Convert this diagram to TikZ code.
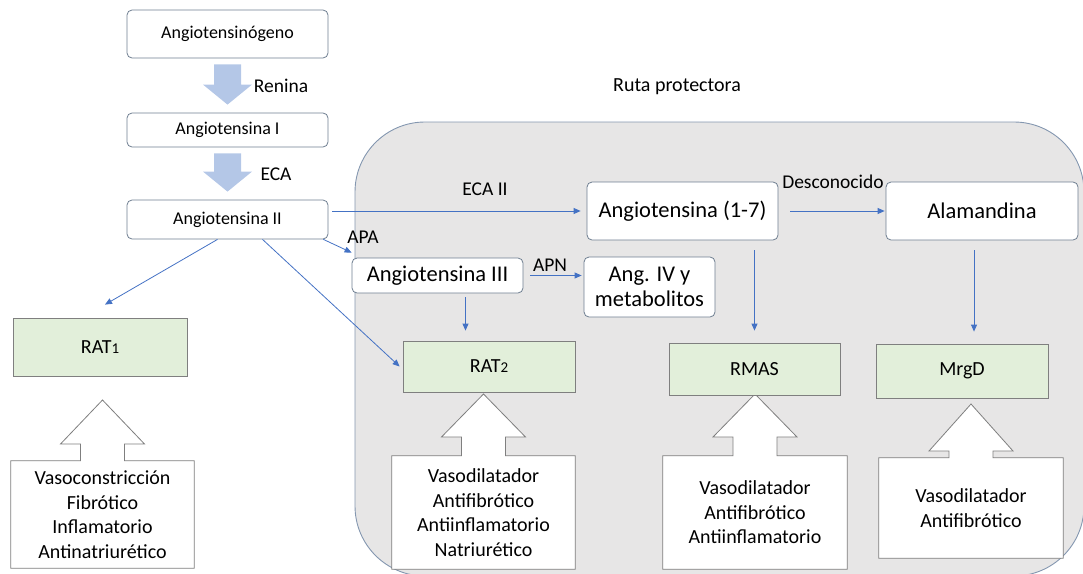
\documentclass[tikz,border=0pt]{standalone}
\usepackage{fontspec}
\setmainfont{Carlito}
\usetikzlibrary{arrows.meta, backgrounds, calc}

\definecolor{boxline}{HTML}{6F7F91}
\definecolor{recfill}{HTML}{E2EFDA}
\definecolor{recline}{HTML}{7F7F7F}
\definecolor{flowblue}{HTML}{4472C4}
\definecolor{blockblue}{HTML}{B4C7E7}
\definecolor{zonefill}{HTML}{E7E6E6}
\definecolor{zoneline}{HTML}{8497B0}

\newcommand\sizetop{\fontsize{18}{22}\selectfont}
\newcommand\sizemid{\fontsize{22.5}{25}\selectfont}
\newcommand\sizerec{\fontsize{20}{24}\selectfont}
\newcommand\sizeeff{\fontsize{20}{24.5}\selectfont}
\newcommand\sizelab{\fontsize{19.5}{22}\selectfont}
\newcommand\sizesub{\fontsize{15}{15}\selectfont}

% #1 effect node, #2 tip y, #3 head base y
\newcommand\effectarrow[3]{%
  \begin{scope}[on background layer]
  \path[callout] (#1.north west) -- ([xshift=-22pt]#1.north) -- ([xshift=-22pt]#1.north |- 0,#3)
    -- ([xshift=-42pt]#1.north |- 0,#3) -- (#1.north |- 0,#2) -- ([xshift=42pt]#1.north |- 0,#3)
    -- ([xshift=22pt]#1.north |- 0,#3) -- ([xshift=22pt]#1.north) -- (#1.north east)
    -- (#1.south east) -- (#1.south west) -- cycle;
  \end{scope}}

% #1 upper node, #2 lower node
\newcommand\downblock[2]{%
  \fill[blockblue] ($(#1.south)+(-13.5,6)$) -- ($(#1.south)+(13.5,6)$) -- ($(#2.north)+(13.5,-28)$)
    -- ($(#2.north)+(24.5,-28)$) -- ($(#2.north)+(0,-8)$) -- ($(#2.north)+(-24.5,-28)$)
    -- ($(#2.north)+(-13.5,-28)$) -- cycle;}

\begin{document}
\begin{tikzpicture}[x=1pt, y=-1pt,
  pep/.style={draw=boxline, fill=white, line width=0.8pt, rounded corners=5pt, align=center, inner sep=0pt},
  rec/.style={draw=recline, fill=recfill, line width=0.8pt, inner sep=0pt, minimum width=172pt, font=\sizerec},
  effect/.style={align=center, inner sep=0pt, minimum width=183pt, font=\sizeeff},
  flow/.style={draw=flowblue, line width=0.8pt, -{Triangle[length=7pt,width=6pt]}},
  enz/.style={font=\sizelab, inner sep=1pt},
  callout/.style={draw=recline, fill=white, line width=0.8pt},
  zone/.style={draw=zoneline, fill=zonefill, line width=0.9pt, rounded corners=70pt}]

\useasboundingbox (0,0) rectangle (1083,573);

\begin{scope}[on background layer]
  \path[zone] (355,122) rectangle (1084,576);
\end{scope}
\node[font=\sizeeff] (ruta) at (677,87) {Ruta protectora};

\node[pep, minimum width=201pt, minimum height=48pt, font=\sizetop] (ago) at (227.5,34) {Angiotensinógeno};
\node[pep, minimum width=201pt, minimum height=34pt, font=\sizetop] (ang1) at (227.5,130) {Angiotensina I};
\node[pep, minimum width=201pt, minimum height=39pt, font=\sizetop] (ang2) at (227.5,219.5) {Angiotensina II};
\node[pep, minimum width=171pt, minimum height=35pt, font=\sizemid] (ang3) at (437.5,275.5) {Angiotensina III};
\node[pep, minimum width=191pt, minimum height=58pt, font=\sizemid] (ang17) at (682.5,211) {Angiotensina (1-7)};
\node[pep, minimum width=192pt, minimum height=58pt, font=\sizemid] (alam) at (982,211) {Alamandina};
\node[pep, minimum width=131pt, minimum height=60pt, font=\sizemid] (ang4) at (649.5,287) {Ang. IV y\\metabolitos};

\node[rec, minimum width=174pt, minimum height=58pt] (rat1) at (100,347) {RAT{\sizesub 1}};
\node[rec, minimum height=51pt] (rat2) at (489,366.5) {RAT{\sizesub 2}};
\node[rec, minimum width=171pt, minimum height=52pt] (rmas) at (754.5,369) {RMAS};
\node[rec, minimum height=54pt] (mrgd) at (962,371) {MrgD};

\node[effect, minimum height=107pt] (ef1) at (102.5,514.5) {Vasoconstricción\\Fibrótico\\Inflamatorio\\Antinatriurético};
\node[effect, minimum height=113pt] (ef2) at (483.5,512.5) {Vasodilatador\\Antifibrótico\\Antiinflamatorio\\Natriurético};
\node[effect, minimum width=184pt, minimum height=113pt] (ef3) at (755,512.5) {Vasodilatador\\Antifibrótico\\Antiinflamatorio};
\node[effect, minimum width=184pt, minimum height=100pt] (ef4) at (971,508) {Vasodilatador\\Antifibrótico};

\effectarrow{ef1}{400}{444}
\effectarrow{ef2}{394}{437}
\effectarrow{ef3}{394}{437}
\effectarrow{ef4}{404}{451}

\downblock{ago}{ang1}
\downblock{ang1}{ang2}
\node[enz] (renina) at (281,86) {Renina};
\node[enz] (eca) at (276,174) {ECA};

\draw[flow, shorten <=4pt, shorten >=6pt] (ang2.east |- ang17.west) -- (ang17.west);
\node[enz] (eca2) at (485,189) {ECA II};
\draw[flow, shorten <=12pt, shorten >=1pt] (ang17.east) -- (alam.west);
\node[enz] (desc) at (833,182) {Desconocido};
\draw[flow] ([xshift=-5pt]ang2.south east) -- ([yshift=5pt]ang3.north west);
\node[enz] (apa) at (363,237) {APA};
\draw[flow, shorten <=7pt, shorten >=2pt] (ang3.east) -- (ang3.east -| ang4.west);
\node[enz] (apn) at (550,265) {APN};

\draw[flow] ([xshift=-10pt]ang2.south) -- ([xshift=5pt, yshift=13pt]rat1.north);
\draw[flow] ([xshift=35pt]ang2.south) -- ([xshift=-3pt]rat2.west);
\draw[flow, shorten <=4pt, shorten >=10pt] ([xshift=28pt]ang3.south) -- ([xshift=28pt]ang3.south |- rat2.north);
\draw[flow, shorten <=10pt, shorten >=12pt] (rmas.north |- ang17.south) -- (rmas.north);
\draw[flow, shorten <=10pt, shorten >=12pt] ([xshift=-8pt]alam.south) -- ([xshift=-8pt]alam.south |- mrgd.north);

\end{tikzpicture}
\end{document}
